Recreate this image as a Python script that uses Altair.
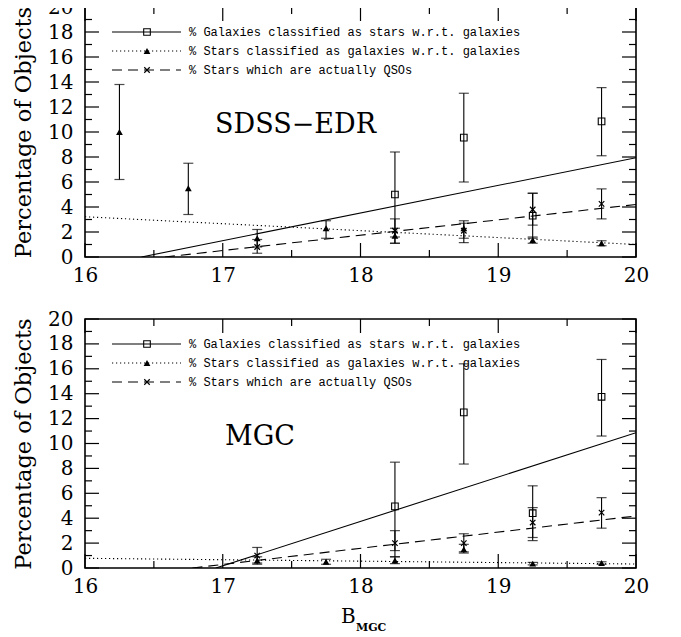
import altair as alt
import pandas as pd

# ---------------- data ----------------
X_MAJOR = [16, 17, 18, 19, 20]
X_MINOR = [16.5, 17.5, 18.5, 19.5]
Y_MAJOR = [0, 2, 4, 6, 8, 10, 12, 14, 16, 18, 20]
Y_MINOR = [1, 3, 5, 7, 9, 11, 13, 15, 17, 19]

LEGEND_LABELS = [
    "% Galaxies classified as stars w.r.t. galaxies",
    "% Stars classified as galaxies w.r.t. galaxies",
    "% Stars which are actually QSOs",
]

# SDSS-EDR panel
EDR_GAL_MAG = [18.25, 18.75, 19.25, 19.75]
EDR_GAL = [5.0, 9.55, 3.3, 10.85]
EDR_GAL_LO = [1.6, 6.0, 1.5, 8.1]
EDR_GAL_HI = [8.4, 13.1, 5.1, 13.55]

EDR_STAR_MAG = [16.25, 16.75, 17.25, 17.75, 18.25, 18.75, 19.25, 19.75]
EDR_STAR = [10.0, 5.5, 1.5, 2.3, 1.7, 2.3, 1.35, 1.1]
EDR_STAR_LO = [6.2, 3.4, 0.8, 1.5, 1.1, 1.15, 1.1, 0.9]
EDR_STAR_HI = [13.8, 7.5, 2.2, 2.9, 2.3, 2.9, 1.6, 1.3]

EDR_QSO_MAG = [17.25, 18.25, 18.75, 19.25, 19.75]
EDR_QSO = [0.8, 2.1, 2.1, 3.8, 4.25]
EDR_QSO_LO = [0.3, 1.1, 1.5, 2.55, 3.05]
EDR_QSO_HI = [1.4, 3.05, 2.7, 5.1, 5.45]

EDR_FIT_GAL_X = [16.41, 20.0]
EDR_FIT_GAL_Y = [0.0, 7.94]
EDR_FIT_STAR_X = [16.0, 20.0]
EDR_FIT_STAR_Y = [3.22, 1.0]
EDR_FIT_QSO_X = [16.58, 20.0]
EDR_FIT_QSO_Y = [0.0, 4.2]

# MGC panel
MGC_GAL_MAG = [18.25, 18.75, 19.25, 19.75]
MGC_GAL = [4.95, 12.5, 4.4, 13.75]
MGC_GAL_LO = [1.4, 8.35, 2.2, 10.6]
MGC_GAL_HI = [8.5, 16.4, 6.6, 16.75]

MGC_STAR_MAG = [17.25, 17.75, 18.25, 18.75, 19.25, 19.75]
MGC_STAR = [0.6, 0.5, 0.6, 1.5, 0.35, 0.4]
MGC_STAR_LO = [0.3, 0.3, 0.35, 1.2, 0.25, 0.3]
MGC_STAR_HI = [0.9, 0.7, 0.9, 1.9, 0.45, 0.5]

MGC_QSO_MAG = [17.25, 18.25, 18.75, 19.25, 19.75]
MGC_QSO = [1.0, 2.0, 2.0, 3.65, 4.45]
MGC_QSO_LO = [0.4, 0.9, 1.3, 2.45, 3.2]
MGC_QSO_HI = [1.65, 3.0, 2.75, 4.85, 5.65]

MGC_FIT_GAL_X = [16.95, 20.0]
MGC_FIT_GAL_Y = [0.0, 10.87]
MGC_FIT_STAR_X = [16.0, 20.0]
MGC_FIT_STAR_Y = [0.78, 0.32]
MGC_FIT_QSO_X = [16.78, 20.0]
MGC_FIT_QSO_Y = [0.0, 4.18]

# ---------------- styling ----------------
W = 551
SERIF = "DejaVu Serif"
MONO = "Liberation Mono"
MAJ, MIN = 14, 7
XPATH = "M-1,-1L1,1M-1,1L1,-1"

xscale = alt.Scale(domain=[16, 20], nice=False, zero=False)
yscale = alt.Scale(domain=[0, 20], nice=False, zero=False)
xaxis = alt.Axis(values=X_MAJOR, ticks=False, domain=False, grid=False,
                 labelFlush=False, labelFont=SERIF, labelFontSize=20,
                 labelColor="black", labelPadding=8, format="d", title=None)
yaxis = alt.Axis(values=Y_MAJOR, ticks=False, domain=False, grid=False,
                 labelFlush=False, labelFont=SERIF, labelFontSize=20,
                 labelColor="black", labelPadding=12, format="d",
                 title="Percentage of Objects", titleFont=SERIF,
                 titleFontSize=22.5, titleFontWeight="normal",
                 titleColor="black", titlePadding=12)


def X(f):
    return alt.X(f, type="quantitative", scale=xscale, axis=xaxis)


def Y(f):
    return alt.Y(f, type="quantitative", scale=yscale, axis=yaxis)


def Y2(f):
    return alt.Y2(f)


ONE = pd.DataFrame({"k": [0]})


def panel(H, label, label_x, gal, star, qso, fits, xtitle):
    layers = []
    # inward ticks
    for vals, ln in ((X_MAJOR, MAJ), (X_MINOR, MIN)):
        d = pd.DataFrame({"m": vals})
        layers.append(alt.Chart(d).mark_rule(color="black", strokeWidth=1.2).encode(
            x=X("m"), y=alt.value(H), y2=alt.value(H - ln)))
        layers.append(alt.Chart(d).mark_rule(color="black", strokeWidth=1.2).encode(
            x=X("m"), y=alt.value(0), y2=alt.value(ln)))
    for vals, ln in ((Y_MAJOR, MAJ), (Y_MINOR, MIN)):
        d = pd.DataFrame({"v": vals})
        layers.append(alt.Chart(d).mark_rule(color="black", strokeWidth=1.2).encode(
            y=Y("v"), x=alt.value(0), x2=alt.value(ln)))
        layers.append(alt.Chart(d).mark_rule(color="black", strokeWidth=1.2).encode(
            y=Y("v"), x=alt.value(W), x2=alt.value(W - ln)))

    # fit lines
    dashes = [None, [1.2, 2.8], [10, 6]]
    for (fx, fy), dash in zip(fits, dashes):
        d = pd.DataFrame({"m": fx, "v": fy})
        kw = dict(color="black", strokeWidth=1.1, clip=True)
        if dash:
            kw["strokeDash"] = dash
        layers.append(alt.Chart(d).mark_line(**kw).encode(x=X("m"), y=Y("v")))

    # data with error bars
    shapes = [
        dict(shape="square", filled=False, size=44, strokeWidth=1.1),
        dict(shape="triangle-up", filled=True, size=46),
        dict(shape=XPATH, filled=False, size=30, strokeWidth=1.2),
    ]
    for (mags, val, lo, hi), shp in zip((gal, star, qso), shapes):
        d = pd.DataFrame({"m": mags, "v": val, "lo": lo, "hi": hi})
        layers.append(alt.Chart(d).mark_rule(color="black", strokeWidth=1.1).encode(
            x=X("m"), y=Y("lo"), y2=Y2("hi")))
        for f in ("lo", "hi"):
            layers.append(alt.Chart(d).mark_tick(color="black", orient="horizontal",
                                                 size=10, thickness=1.2).encode(
                x=X("m"), y=Y(f)))
        layers.append(alt.Chart(d).mark_point(color="black", opacity=1, **shp).encode(
            x=X("m"), y=Y("v")))

    # legend
    rows = [25, 44, 63]
    for i, (lab, dash, shp) in enumerate(zip(LEGEND_LABELS, dashes, shapes)):
        kw = dict(color="black", strokeWidth=1.1)
        if dash:
            kw["strokeDash"] = dash
        layers.append(alt.Chart(ONE).mark_rule(**kw).encode(
            x=alt.value(27), x2=alt.value(96), y=alt.value(rows[i])))
        layers.append(alt.Chart(ONE).mark_point(color="black", opacity=1, **shp).encode(
            x=alt.value(62), y=alt.value(rows[i])))
        layers.append(alt.Chart(ONE).mark_text(
            align="left", baseline="middle", font=MONO, fontSize=12,
            color="black").encode(
            x=alt.value(104), y=alt.value(rows[i]), text=alt.value(lab)))

    # panel label
    layers.append(alt.Chart(ONE).mark_text(
        align="left", baseline="middle", font=SERIF, fontSize=27,
        color="black").encode(x=alt.value(label_x), y=alt.value(118),
                              text=alt.value(label)))

    if xtitle:
        layers.append(alt.Chart(ONE).mark_text(
            align="left", baseline="alphabetic", font=SERIF, fontSize=20,
            color="black").encode(x=alt.value(256), y=alt.value(H + 55),
                                  text=alt.value("B")))
        layers.append(alt.Chart(ONE).mark_text(
            align="left", baseline="alphabetic", font=SERIF, fontSize=11,
            fontWeight="bold", color="black").encode(
            x=alt.value(271), y=alt.value(H + 63), text=alt.value("MGC")))

    return alt.layer(*layers).properties(width=W, height=H)


top = panel(
    250, "SDSS\u2212EDR", 130,
    (EDR_GAL_MAG, EDR_GAL, EDR_GAL_LO, EDR_GAL_HI),
    (EDR_STAR_MAG, EDR_STAR, EDR_STAR_LO, EDR_STAR_HI),
    (EDR_QSO_MAG, EDR_QSO, EDR_QSO_LO, EDR_QSO_HI),
    [(EDR_FIT_GAL_X, EDR_FIT_GAL_Y), (EDR_FIT_STAR_X, EDR_FIT_STAR_Y),
     (EDR_FIT_QSO_X, EDR_FIT_QSO_Y)],
    False,
)
bottom = panel(
    249, "MGC", 140,
    (MGC_GAL_MAG, MGC_GAL, MGC_GAL_LO, MGC_GAL_HI),
    (MGC_STAR_MAG, MGC_STAR, MGC_STAR_LO, MGC_STAR_HI),
    (MGC_QSO_MAG, MGC_QSO, MGC_QSO_LO, MGC_QSO_HI),
    [(MGC_FIT_GAL_X, MGC_FIT_GAL_Y), (MGC_FIT_STAR_X, MGC_FIT_STAR_Y),
     (MGC_FIT_QSO_X, MGC_FIT_QSO_Y)],
    True,
)

chart = alt.vconcat(top, bottom, spacing=22).properties(
    padding={"left": 3, "top": -12, "right": 5, "bottom": 5},
    background="white",
).configure_view(stroke="black", strokeWidth=1.6)

chart.save("out.html", embed_options={"renderer": "svg", "actions": False})
